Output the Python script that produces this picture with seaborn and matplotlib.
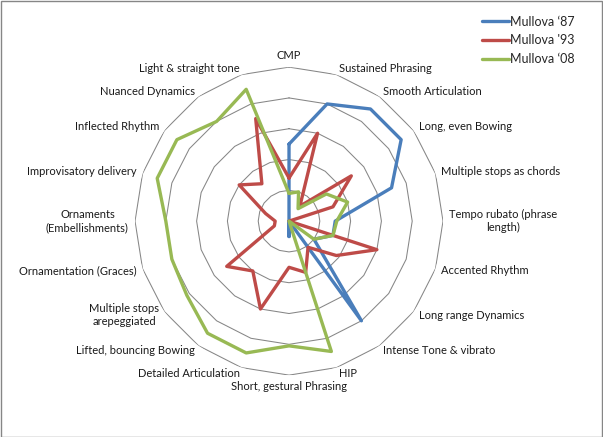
import numpy as np
import pandas as pd
import matplotlib
matplotlib.use("Agg")
import matplotlib.pyplot as plt
import seaborn as sns
from matplotlib.lines import Line2D
from matplotlib.patches import Rectangle

# Categories, clockwise from the top
categories = [
    "CMP", "Sustained Phrasing", "Smooth Articulation", "Long, even Bowing",
    "Multiple stops as chords", "Tempo rubato (phrase\nlength)", "Accented Rhythm",
    "Long range Dynamics", "Intense Tone & vibrato", "HIP", "Short, gestural Phrasing",
    "Detailed Articulation", "Lifted, bouncing Bowing", "Multiple stops\narepeggiated",
    "Ornamentation (Graces)", "Ornaments\n(Embellishments)", "Improvisatory delivery",
    "Inflected Rhythm", "Nuanced Dynamics", "Light & straight tone",
]

mullova_87 = [2.5, 4.0, 4.5, 4.5, 3.5, 1.5, 1.5, 1.0, 4.0, 0, 0.5, 0, 0, 0, 0, 0, 0, 0, 0, 0]
mullova_93 = [1.4, 3.0, 0.6, 2.5, 1.5, 0, 3.0, 1.9, 1.05, 1.75, 1.5, 3.0, 2.0, 2.5, 0.5, 0.45, 0.8, 2.0, 1.5, 3.5]
mullova_08 = [0.9, 1.0, 0.5, 1.5, 2.0, 1.55, 1.5, 1.0, 0, 4.45, 4.05, 4.5, 4.5, 4.1, 4.0, 4.0, 4.5, 4.5, 4.0, 4.5]

series_names = ["Mullova \u201887", "Mullova '93", "Mullova \u201808"]
colors = ["#4A7EBB", "#BE4B48", "#98B954"]
ring_levels = [1, 2, 3, 4, 5]

n = len(categories)
angles = np.linspace(0, 2 * np.pi, n, endpoint=False)

# long table, each series closed back to its first point
rows = []
for name, vals in zip(series_names, [mullova_87, mullova_93, mullova_08]):
    for i in list(range(n)) + [0]:
        rows.append({"angle": angles[i], "value": vals[i], "series": name})
df = pd.DataFrame(rows)

sns.set_style("white")
plt.rcParams["font.family"] = ["Lato", "DejaVu Sans"]

fig = plt.figure(figsize=(6.03, 4.37), dpi=100)
ax = fig.add_axes([0.2239, 0.1416, 0.5108, 0.7048], projection="polar")
ax.set_theta_zero_location("N")
ax.set_theta_direction(-1)

# polygon grid
closed = np.append(angles, angles[0])
for lvl in ring_levels:
    ax.plot(closed, [lvl] * (n + 1), color="#868686", lw=0.75, zorder=1)

sns.lineplot(data=df, x="angle", y="value", hue="series", palette=colors,
             sort=False, estimator=None, units="series", lw=2.4, legend=False,
             ax=ax, zorder=3)

ax.set_ylim(0, 5)
ax.grid(False)
ax.spines["polar"].set_visible(False)
ax.set_xticks([])
ax.set_yticks([])
ax.set_xlabel("")
ax.set_ylabel("")
ax.patch.set_alpha(0)

# category labels around the outside
for ang, lab in zip(angles, categories):
    s = np.sin(ang)
    c = np.cos(ang)
    if abs(s) < 0.01:
        ha = "center"
        va = "bottom" if c > 0 else "top"
    else:
        ha = "left" if s > 0 else "right"
        va = "center"
    ax.text(ang, 5.2, lab, ha=ha, va=va, multialignment="center",
            fontsize=8, color="#1a1a1a", clip_on=False)

handles = [Line2D([], [], color=col, lw=2.4) for col in colors]
fig.legend(handles, series_names, loc="upper left", bbox_to_anchor=(0.78, 0.99),
           frameon=False, fontsize=9, handlelength=2.2, handletextpad=0.1,
           labelspacing=0.55)

fig.patches.append(Rectangle((0.001, 0.001), 0.997, 0.997, transform=fig.transFigure,
                             fill=False, edgecolor="#868686", lw=1))

fig.savefig("out.png", dpi=100)
